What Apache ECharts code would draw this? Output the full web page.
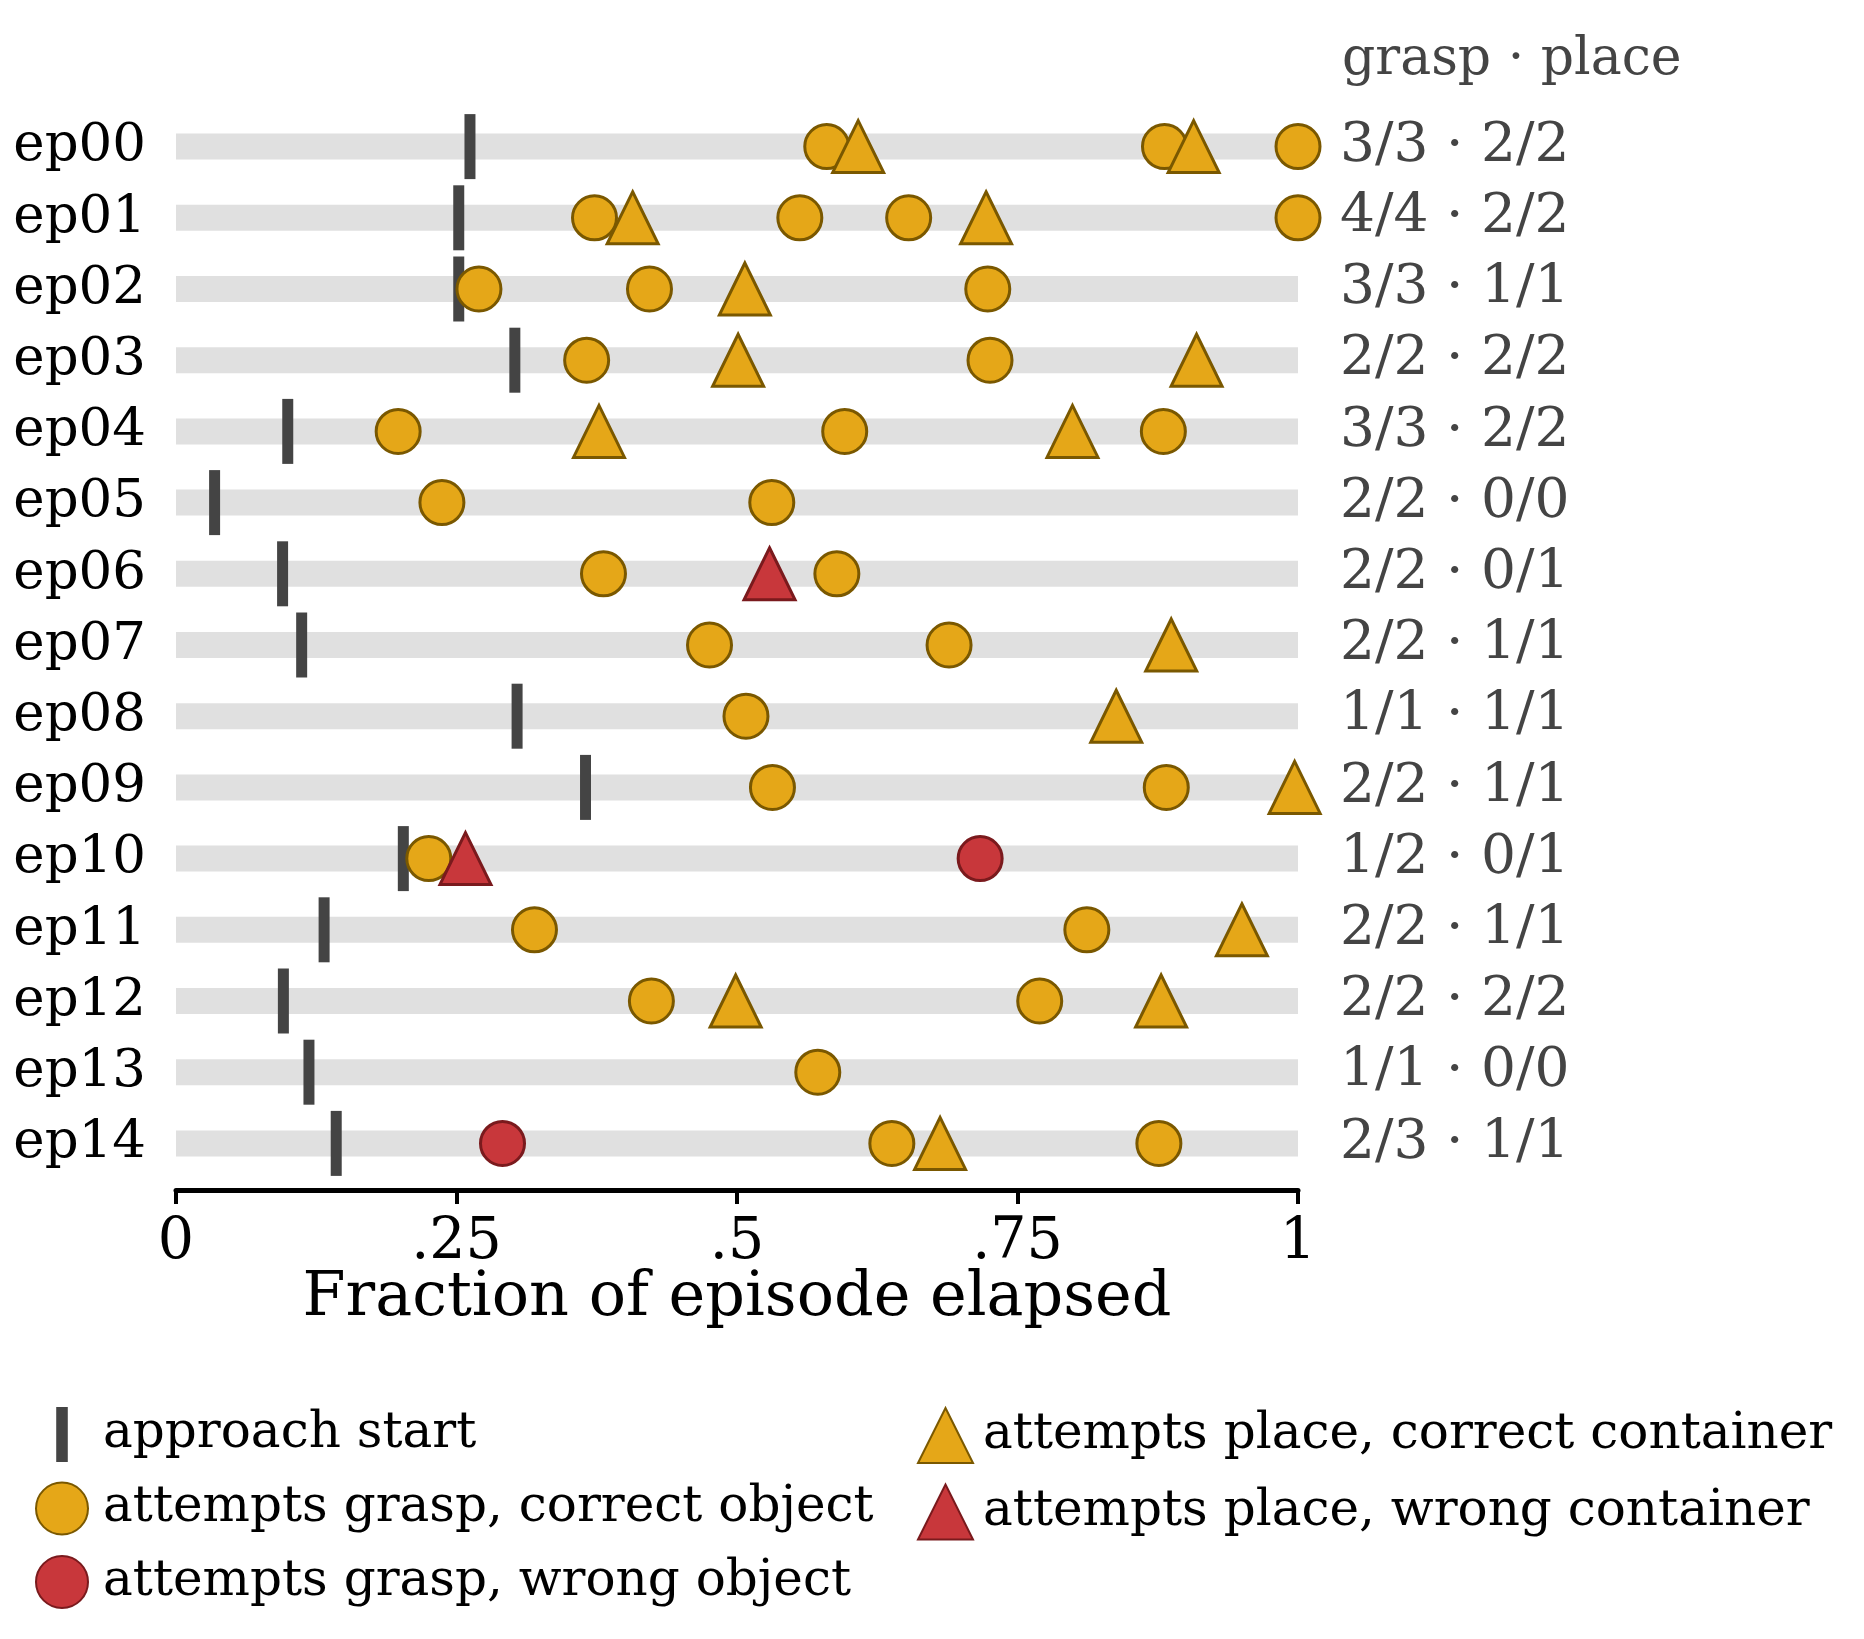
<!DOCTYPE html>
<html><head><meta charset="utf-8">
<script src="https://cdn.jsdelivr.net/npm/echarts@6/dist/echarts.min.js"></script>
<style>html,body{margin:0;padding:0;background:#fff}#c{width:1864px;height:1639px}</style>
</head><body><div id="c"></div>
<script>
const episodes = ['ep00','ep01','ep02','ep03','ep04','ep05','ep06','ep07','ep08','ep09','ep10','ep11','ep12','ep13','ep14'];
const approachStart = [0.262,0.252,0.252,0.302,0.0996,0.0344,0.095,0.112,0.304,0.365,0.2026,0.132,0.0957,0.1185,0.1428];
const graspCorrect = [
  [0.580,0.881,1.0],
  [0.373,0.556,0.653,1.0],
  [0.270,0.422,0.7235],
  [0.366,0.7255],
  [0.198,0.596,0.880],
  [0.237,0.531],
  [0.381,0.589],
  [0.4755,0.689],
  [0.508],
  [0.5316,0.8826],
  [0.2253],
  [0.3195,0.8118],
  [0.4237,0.7698],
  [0.572],
  [0.638,0.876]
];
const graspWrong = [[],[],[],[],[],[],[],[],[],[],[0.7167],[],[],[],[0.291]];
const placeCorrect = [
  [0.608,0.907],
  [0.407,0.722],
  [0.507],
  [0.501,0.9096],
  [0.377,0.799],
  [],
  [],
  [0.887],
  [0.838],
  [0.997],
  [],
  [0.950],
  [0.4988,0.878],
  [],
  [0.681]
];
const placeWrong = [[],[],[],[],[],[],[0.529],[],[],[],[0.258],[],[],[],[]];
const statsLabels = ['3/3 · 2/2','4/4 · 2/2','3/3 · 1/1','2/2 · 2/2','3/3 · 2/2','2/2 · 0/0','2/2 · 0/1','2/2 · 1/1','1/1 · 1/1','2/2 · 1/1','1/2 · 0/1','2/2 · 1/1','2/2 · 2/2','1/1 · 0/0','2/3 · 1/1'];
const bandEnd = [1,1,1,1,1,1,1,1,1,1,1,1,1,1,1];
const xTickLabels = {'0':'0','0.25':'.25','0.5':'.5','0.75':'.75','1':'1'};
const statsHeader = 'grasp · place';
const xTitle = 'Fraction of episode elapsed';

const FONT = 'DejaVu Serif';
const GOLD = '#E5A718', GOLD_EDGE = '#7A5800';
const RED = '#C8373B', RED_EDGE = '#7A1A1D';
const TICK = '#444444';

function toPoints(arr){ return arr.flatMap((xs,i)=>xs.map(x=>[x, episodes[i]])); }

const chart = echarts.init(document.getElementById('c'), null, {renderer:'canvas'});
chart.setOption({
  animation:false,
  backgroundColor:'#fff',
  title:{text:statsHeader, left:1342, top:34, padding:0,
    textStyle:{fontFamily:FONT, fontSize:52, fontWeight:'normal', color:'#444'}},
  grid:{left:176, right:566, top:111, height:1068, containLabel:false},
  xAxis:{type:'value', min:0, max:1, interval:0.25, offset:11,
    axisLine:{show:true, lineStyle:{color:'#000', width:5}},
    axisTick:{show:true, length:14, lineStyle:{color:'#000', width:4}},
    splitLine:{show:false},
    axisLabel:{fontFamily:FONT, fontSize:57, color:'#000', margin:25,
      formatter:v=>xTickLabels[String(v)] ?? String(v)},
    name:xTitle, nameLocation:'middle', nameGap:78, nameMoveOverlap:false,
    nameTextStyle:{fontFamily:FONT, fontSize:62, color:'#000'}
  },
  yAxis:[
    {type:'category', data:episodes, inverse:true,
     axisLine:{show:false}, axisTick:{show:false}, splitLine:{show:false},
     axisLabel:{interval:0, fontFamily:FONT, fontSize:53, color:'#000', margin:30}},
    {type:'category', data:episodes, inverse:true, position:'right',
     axisLine:{show:false}, axisTick:{show:false}, splitLine:{show:false},
     axisLabel:{interval:0, fontFamily:FONT, fontSize:55, color:'#444', margin:42, align:'left',
       formatter:(v,i)=>statsLabels[i]}}
  ],
  legend:[
    {orient:'vertical', left:35, top:1407, padding:0, itemWidth:52, itemHeight:55, itemGap:19.5,
     selectedMode:false,
     textStyle:{fontFamily:FONT, fontSize:50, color:'#000', padding:[0,0,0,10]},
     data:[
       {name:'approach start', icon:'path://M0,0L12,0L12,57L0,57Z'},
       {name:'attempts grasp, correct object', icon:'circle'},
       {name:'attempts grasp, wrong object', icon:'circle'}
     ]},
    {orient:'vertical', left:917, top:1407, padding:0, itemWidth:55, itemHeight:55, itemGap:19.5,
     selectedMode:false,
     textStyle:{fontFamily:FONT, fontSize:50, color:'#000', padding:[0,0,0,5]},
     data:[
       {name:'attempts place, correct container', icon:'triangle'},
       {name:'attempts place, wrong container', icon:'triangle'}
     ]}
  ],
  series:[
    {type:'bar', name:'band', data:bandEnd, barWidth:26, silent:true,
     itemStyle:{color:'#E0E0E0'}, xAxisIndex:0, yAxisIndex:0},
    {type:'scatter', name:'approach start', symbol:'rect', symbolSize:[11,65],
     itemStyle:{color:TICK, opacity:1},
     data:approachStart.map((x,i)=>[x, episodes[i]])},
    {type:'scatter', name:'attempts grasp, correct object', symbol:'circle', symbolSize:44,
     itemStyle:{color:GOLD, borderColor:GOLD_EDGE, borderWidth:3, opacity:1},
     data:toPoints(graspCorrect)},
    {type:'scatter', name:'attempts grasp, wrong object', symbol:'circle', symbolSize:44,
     itemStyle:{color:RED, borderColor:RED_EDGE, borderWidth:3, opacity:1},
     data:toPoints(graspWrong)},
    {type:'scatter', name:'attempts place, correct container', symbol:'triangle', symbolSize:[51,52],
     itemStyle:{color:GOLD, borderColor:GOLD_EDGE, borderWidth:3, opacity:1},
     data:toPoints(placeCorrect)},
    {type:'scatter', name:'attempts place, wrong container', symbol:'triangle', symbolSize:[51,52],
     itemStyle:{color:RED, borderColor:RED_EDGE, borderWidth:3, opacity:1},
     data:toPoints(placeWrong)}
  ]
});
</script></body></html>
